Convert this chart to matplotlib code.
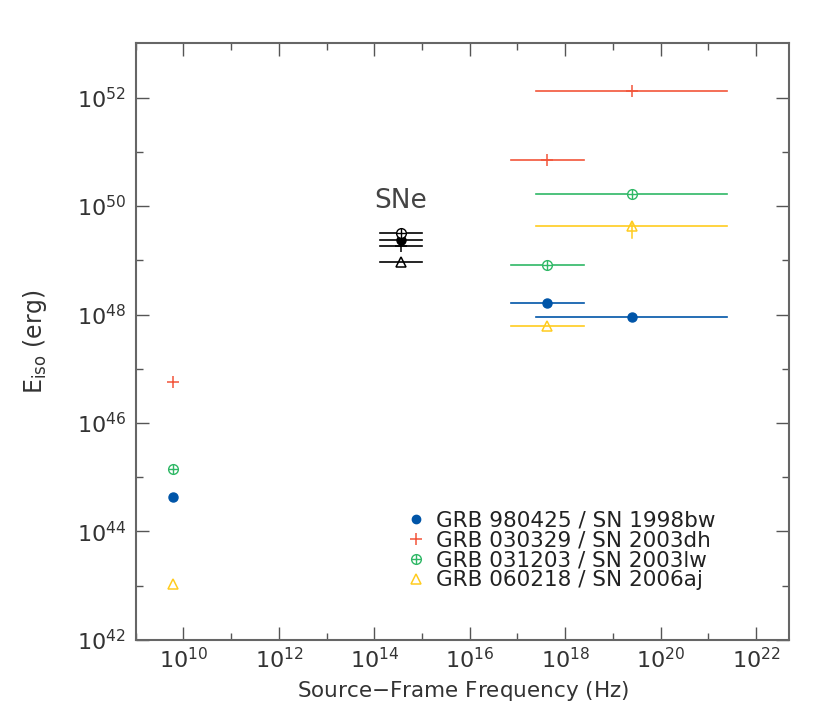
import numpy as np
import matplotlib.pyplot as plt
from matplotlib.lines import Line2D

# Dane: log10 częstotliwości i energii
names = ['GRB 980425 / SN 1998bw', 'GRB 030329 / SN 2003dh',
         'GRB 031203 / SN 2003lw', 'GRB 060218 / SN 2006aj']
colors = ['#0055a8', '#f2553a', '#2fb866', '#ffcc1f']

radio_lognu = [9.78, 9.78, 9.78, 9.78]
radio_logE = [44.64, 46.75, 45.15, 43.03]

sne_lognu = [14.55, 14.11, 15.01]          # środek, dół, góra pasma
sne_logE = [49.37, 49.26, 49.50, 48.97]

xray_lognu = [17.63, 16.87, 18.39]
xray_logE = [48.22, 50.85, 48.92, 47.79]

gamma_lognu = [19.40, 17.39, 21.39]
gamma_logE = [47.96, 52.12, 50.22, 49.63]
gamma_logE_err = [None, None, None, (49.42, 49.71)]

fig = plt.figure(figsize=(8.3, 7.27), dpi=100)
ax = fig.add_axes([0.1635, 0.1197, 0.7875, 0.8207])
ax.set_xscale('log')
ax.set_yscale('log')


def marker(x, y, i, c, ms=6.5):
    # rysuje symbol serii i
    if i == 0:
        ax.plot(x, y, 'o', color=c, ms=ms, mec=c, zorder=5)
    elif i == 1:
        ax.plot(x, y, '+', color=c, ms=ms + 1.5, mew=1.1, zorder=5)
    elif i == 2:
        ax.plot(x, y, 'o', mfc='white', mec=c, ms=ms + 0.5, mew=1.0, zorder=5)
        ax.plot(x, y, '+', color=c, ms=ms + 0.5, mew=1.0, zorder=6)
    else:
        ax.plot(x, y, '^', mfc='none', mec=c, ms=ms + 1, mew=1.1, zorder=5)


def band(lognu, logE, c):
    ax.plot([10**lognu[1], 10**lognu[2]], [10**logE, 10**logE],
            color=c, lw=1.2, zorder=3)


for i in range(4):
    c = colors[i]
    # radio
    marker(10**radio_lognu[i], 10**radio_logE[i], i, c)
    # X
    band(xray_lognu, xray_logE[i], c)
    marker(10**xray_lognu[0], 10**xray_logE[i], i, c)
    # gamma
    band(gamma_lognu, gamma_logE[i], c)
    if gamma_logE_err[i] is not None:
        lo, hi = gamma_logE_err[i]
        ax.plot([10**gamma_lognu[0]] * 2, [10**lo, 10**hi], color=c, lw=1.1)
    marker(10**gamma_lognu[0], 10**gamma_logE[i], i, c)
    # supernowe
    band(sne_lognu, sne_logE[i], 'black')
    marker(10**sne_lognu[0], 10**sne_logE[i], i, 'black')

ax.text(10**14.55, 10**50.1, 'SNe', ha='center', va='center',
        fontsize=19, color='#444444')

ax.set_xlim(1e9, 5e22)
ax.set_ylim(1e42, 1e53)

xmaj = np.arange(10, 23, 2)
ax.set_xticks(10.0**xmaj, ['$10^{%d}$' % k for k in xmaj])
ax.set_xticks(10.0**np.arange(9, 23, 2), minor=True)
ymaj = np.arange(42, 53, 2)
ax.set_yticks(10.0**ymaj, ['$10^{%d}$' % k for k in ymaj])
ax.set_yticks(10.0**np.arange(43, 53, 2), minor=True)
ax.set_xticklabels([], minor=True)
ax.set_yticklabels([], minor=True)

ax.tick_params(which='both', direction='in', top=True, right=True,
               color='#555555', width=1.0, labelsize=16, labelcolor='#333333')
ax.tick_params(which='major', length=9.5)
ax.tick_params(which='minor', length=5)
ax.tick_params(axis='x', which='major', pad=5)
ax.tick_params(axis='y', which='major', pad=7)
for s in ax.spines.values():
    s.set_color('#666666')
    s.set_linewidth(1.5)

ax.set_xlabel('Source$-$Frame Frequency (Hz)', fontsize=15.5,
              color='#333333', labelpad=5)
ax.set_ylabel('E$_{\\rm iso}$ (erg)', fontsize=17, color='#333333',
              labelpad=20)

# legenda
handles = []
for i, c in enumerate(colors):
    if i == 0:
        h = Line2D([], [], ls='none', marker='o', color=c, ms=6)
    elif i == 1:
        h = Line2D([], [], ls='none', marker='+', color=c, ms=8, mew=1.1)
    elif i == 2:
        h = (Line2D([], [], ls='none', marker='o', mfc='white', mec=c, ms=7),
             Line2D([], [], ls='none', marker='+', color=c, ms=7))
    else:
        h = Line2D([], [], ls='none', marker='^', mfc='none', mec=c, ms=7,
                   mew=1.1)
    handles.append(h)
ax.legend(handles, names, loc='upper left', bbox_to_anchor=(0.382, 0.25),
          frameon=False, fontsize=15.5, handlelength=1.0, handletextpad=0.45,
          labelspacing=0.0, labelcolor='#222222')

fig.savefig('out.png', dpi=100)
